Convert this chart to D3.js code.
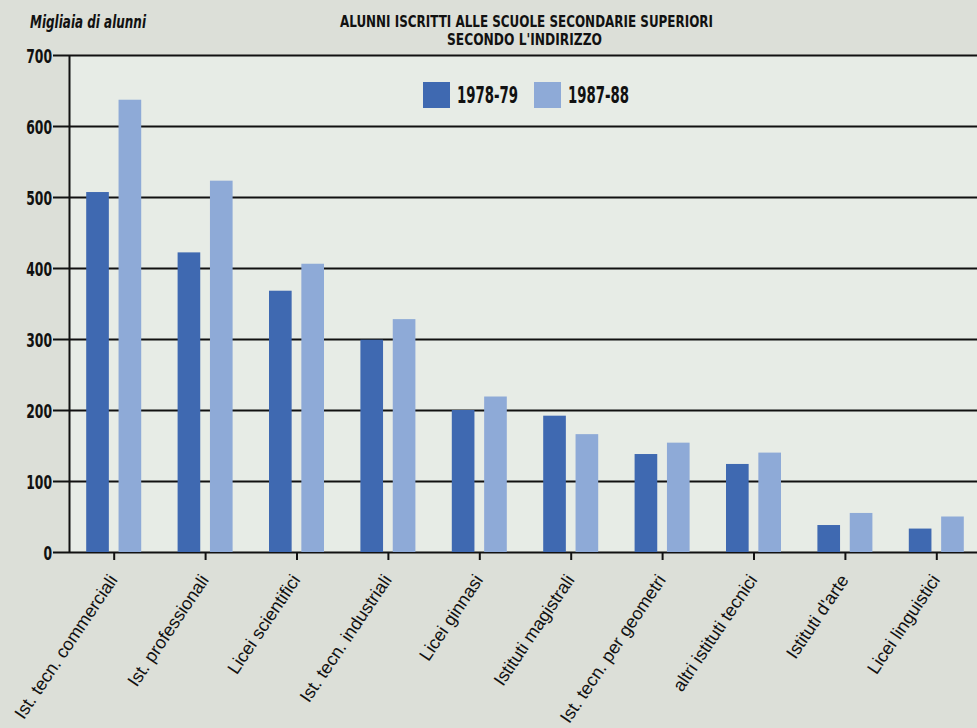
<!DOCTYPE html>
<html>
<head>
<meta charset="utf-8">
<script src="https://cdn.jsdelivr.net/npm/d3@7"></script>
<style>
  html, body { margin: 0; padding: 0; background: #dcdfd8; }
  svg { display: block; }
</style>
</head>
<body>
<svg id="chart" width="977" height="728"></svg>
<script>
const categories = [
  "Ist. tecn. commerciali", "Ist. professionali", "Licei scientifici",
  "Ist. tecn. industriali", "Licei ginnasi", "Istituti magistrali",
  "Ist. tecn. per geometri", "altri istituti tecnici", "Istituti d'arte",
  "Licei linguistici"
];
const seriesNames = ["1978-79", "1987-88"];
const values1978 = [507, 422, 368, 299, 200, 192, 138, 124, 38, 33];
const values1987 = [637, 523, 406, 328, 219, 166, 154, 140, 55, 50];
const yTicks = [0, 100, 200, 300, 400, 500, 600, 700];
const titleLines = ["ALUNNI ISCRITTI ALLE SCUOLE SECONDARIE SUPERIORI", "SECONDO L'INDIRIZZO"];
const yAxisTitle = "Migliaia di alunni";

(function () {
const colors = ["#3f69b1", "#8eaad7"];
const W = 977, H = 728;
const mLeft = 69, mRight = 977, mTop = 55, mBottom = 552;

const svg = d3.select("#chart");
svg.append("rect").attr("width", W).attr("height", H).attr("fill", "#dcdfd8");
svg.append("rect").attr("x", mLeft).attr("y", mTop).attr("width", mRight - mLeft).attr("height", mBottom - mTop).attr("fill", "#e7ece6");

const x = d3.scalePoint().domain(categories).range([68, 982]).padding(0.5);
const xs = d3.scaleBand().domain([0, 1]).range([-27.5, 27.5]).paddingInner(0.3).paddingOuter(0);
const y = d3.scaleLinear().domain([0, 700]).range([mBottom, mTop]);

const condensed = "'Liberation Sans Narrow', 'DejaVu Sans Condensed', 'Liberation Sans', sans-serif";

// gridlines (behind bars)
const grid = svg.append("g").attr("transform", `translate(${mLeft},0)`)
  .call(d3.axisLeft(y).tickValues(yTicks).tickSize(-(mRight - mLeft)).tickFormat(""));
grid.select(".domain").remove();
grid.selectAll("line").attr("stroke", "#111").attr("stroke-width", 2);

// bars
const data = categories.map((c, i) => ({ c, v: [values1978[i], values1987[i]] }));
const groups = svg.append("g").selectAll("g").data(data).join("g")
  .attr("transform", d => `translate(${x(d.c)},0)`);
groups.selectAll("rect").data(d => d.v.map((v, k) => ({ v, k }))).join("rect")
  .attr("x", d => xs(d.k))
  .attr("width", xs.bandwidth())
  .attr("y", d => y(d.v))
  .attr("height", d => y(0) - y(d.v))
  .attr("fill", d => colors[d.k]);

// y axis
const yAxis = svg.append("g").attr("transform", `translate(${mLeft},0)`)
  .call(d3.axisLeft(y).tickValues(yTicks).tickSize(16).tickPadding(1).tickSizeOuter(0));
yAxis.select(".domain").attr("stroke", "#111").attr("stroke-width", 2);
yAxis.selectAll("line").attr("stroke", "#111").attr("stroke-width", 2);
yAxis.selectAll("text")
  .attr("font-family", condensed).attr("font-weight", "bold")
  .attr("font-size", 20).attr("fill", "#111").attr("dy", "0.36em")
  .attr("textLength", d => String(d).length * 8.6)
  .attr("lengthAdjust", "spacingAndGlyphs");

// x axis
const xAxis = svg.append("g").attr("transform", `translate(0,${mBottom})`)
  .call(d3.axisBottom(x).tickSize(8).tickSizeOuter(0));
xAxis.select(".domain").remove();
xAxis.selectAll("line").attr("stroke", "#111").attr("stroke-width", 2);
xAxis.selectAll("text")
  .attr("font-family", "'Liberation Sans', Arial, sans-serif")
  .attr("font-size", 18).attr("fill", "#111")
  .attr("text-anchor", "end")
  .attr("x", 0).attr("y", 0).attr("dy", 0)
  .attr("transform", "translate(4,28) rotate(-56)");

// title
const tl = svg.append("g").attr("font-family", condensed).attr("font-weight", "bold").attr("fill", "#111").attr("font-size", 15.5);
tl.append("text").attr("x", 340).attr("y", 26.5).attr("textLength", 373).attr("lengthAdjust", "spacingAndGlyphs").text(titleLines[0]);
tl.append("text").attr("x", 447).attr("y", 44.5).attr("textLength", 155).attr("lengthAdjust", "spacingAndGlyphs").text(titleLines[1]);

// y axis title
svg.append("text").attr("x", 30).attr("y", 28)
  .attr("font-family", condensed).attr("font-weight", "bold").attr("font-style", "italic")
  .attr("font-size", 18).attr("fill", "#111")
  .attr("textLength", 116).attr("lengthAdjust", "spacingAndGlyphs")
  .text(yAxisTitle);

// legend
const legendX = [423, 534];
const lg = svg.append("g");
seriesNames.forEach((s, k) => {
  lg.append("rect").attr("x", legendX[k]).attr("y", 82).attr("width", 27).attr("height", 26).attr("fill", colors[k]);
  lg.append("text").attr("x", legendX[k] + 34).attr("y", 103)
    .attr("font-family", condensed).attr("font-weight", "bold").attr("font-size", 23).attr("fill", "#111")
    .attr("textLength", 61).attr("lengthAdjust", "spacingAndGlyphs")
    .text(s);
});
})();
</script>
</body>
</html>
